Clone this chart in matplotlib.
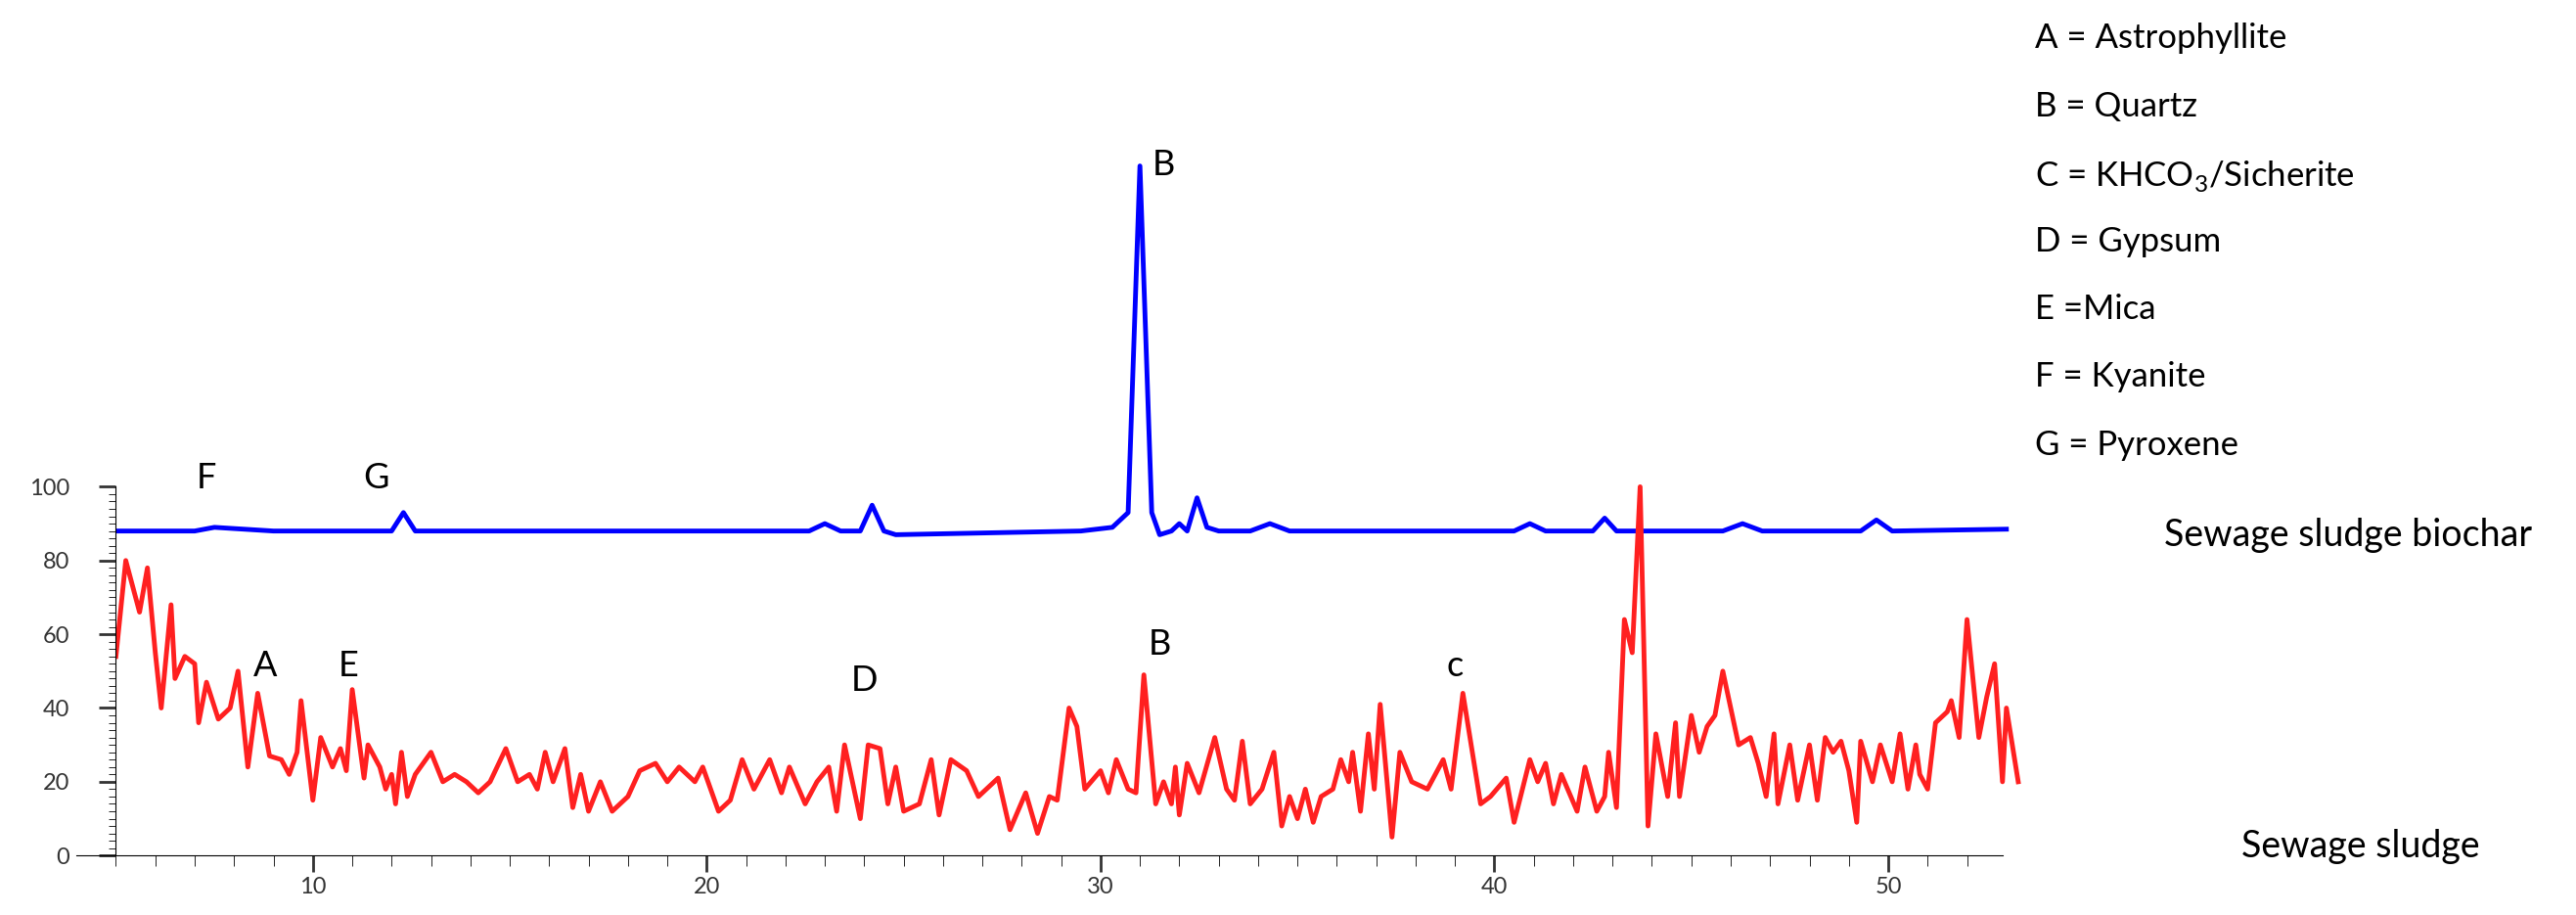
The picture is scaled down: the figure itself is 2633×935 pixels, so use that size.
import matplotlib
matplotlib.use("Agg")
import matplotlib.pyplot as plt
from matplotlib.ticker import FixedLocator
import numpy as np

red_x = [5.0,5.25,5.6,5.8,6.0,6.15,6.4,6.5,6.75,7.0,7.1,7.3,7.6,7.9,8.1,8.35,8.6,8.9,9.2,9.4,9.6,9.7,10.0,10.2,10.5,10.7,10.85,11.0,11.3,11.4,11.7,11.85,12.0,12.1,12.25,12.4,12.6,13.0,13.3,13.6,13.9,14.2,14.5,14.9,15.2,15.5,15.7,15.9,16.1,16.4,16.6,16.8,17.0,17.3,17.6,18.0,18.3,18.7,19.0,19.3,19.7,19.9,20.3,20.6,20.9,21.2,21.6,21.9,22.1,22.5,22.8,23.1,23.3,23.5,23.9,24.1,24.4,24.6,24.8,25.0,25.4,25.7,25.9,26.2,26.6,26.9,27.4,27.7,28.1,28.4,28.7,28.9,29.2,29.4,29.6,30.0,30.2,30.4,30.7,30.9,31.1,31.4,31.6,31.8,31.9,32.0,32.2,32.5,32.9,33.2,33.4,33.6,33.8,34.1,34.4,34.6,34.8,35.0,35.2,35.4,35.6,35.9,36.1,36.3,36.4,36.6,36.8,36.95,37.1,37.4,37.6,37.9,38.3,38.7,38.9,39.2,39.65,39.9,40.3,40.5,40.9,41.1,41.3,41.5,41.7,42.1,42.3,42.4,42.6,42.8,42.9,43.1,43.3,43.5,43.7,43.9,44.1,44.4,44.6,44.7,45.0,45.2,45.4,45.6,45.8,46.2,46.5,46.7,46.9,47.1,47.2,47.5,47.7,48.0,48.2,48.4,48.6,48.8,49.0,49.2,49.3,49.6,49.8,50.1,50.3,50.5,50.7,50.8,51.0,51.2,51.5,51.6,51.8,52.0,52.3,52.5,52.7,52.9,53.0,53.3]
red_y = [54,80,66,78,55,40,68,48,54,52,36,47,37,40,50,24,44,27,26,22,28,42,15,32,24,29,23,45,21,30,24,18,22,14,28,16,22,28,20,22,20,17,20,29,20,22,18,28,20,29,13,22,12,20,12,16,23,25,20,24,20,24,12,15,26,18,26,17,24,14,20,24,12,30,10,30,29,14,24,12,14,26,11,26,23,16,21,7,17,6,16,15,40,35,18,23,17,26,18,17,49,14,20,14,24,11,25,17,32,18,15,31,14,18,28,8,16,10,18,9,16,18,26,20,28,12,33,18,41,5,28,20,18,26,18,44,14,16,21,9,26,20,25,14,22,12,24,20,12,16,28,13,64,55,100,8,33,16,36,16,38,28,35,38,50,30,32,25,16,33,14,30,15,30,15,32,28,31,23,9,31,20,30,20,33,18,30,22,18,36,39,42,32,64,32,43,52,20,40,20]

blue_x = [5.0,7.0,7.5,9.0,12.0,12.3,12.6,15.0,22.6,23.0,23.4,23.9,24.2,24.5,24.8,29.5,30.3,30.7,30.85,31.0,31.15,31.3,31.5,31.8,32.0,32.2,32.45,32.7,33.0,33.8,34.3,34.8,40.5,40.9,41.3,42.5,42.8,43.1,45.8,46.3,46.8,49.3,49.7,50.1,53.0]
blue_y = [88,88,89,88,88,93,88,88,88,90,88,88,95,88,87,88,89,93,140,187,140,93,87,88,90,88,97,89,88,88,90,88,88,90,88,88,91.5,88,88,90,88,88,91,88,88.5]

peak_labels = ["F","G","A","E","D","B","c","B"]
peak_x = [7.3,11.6,8.8,10.9,24.0,31.5,39.0,31.6]
peak_y = [98,98,47,47,43,53,47,183]

legend_lines = ["A = Astrophyllite","B = Quartz",r"C = KHCO$_3$/Sicherite","D = Gypsum","E =Mica","F = Kyanite","G = Pyroxene"]
series_names = ["Sewage sludge biochar","Sewage sludge"]

plt.rcParams['font.family'] = ['Lato','DejaVu Sans']
plt.rcParams['mathtext.fontset'] = 'custom'
plt.rcParams['mathtext.rm'] = 'Lato'
fig = plt.figure(figsize=(26.33,9.35), dpi=100)
ax = fig.add_axes([0.045,0.065,0.74,0.935])
ax.plot(blue_x, blue_y, color='#0000ff', lw=3.5)
ax.plot(red_x, red_y, color='#ff2020', lw=3.5)
ax.set_xlim(5,53.4)
ax.set_ylim(0,232)
for s in ['top','right']:
    ax.spines[s].set_visible(False)
ax.spines['left'].set_bounds(0,100)
ax.spines['bottom'].set_bounds(4,52.9)
ax.spines['left'].set_position(('data',5))
ax.set_yticks([0,20,40,60,80,100])
ax.yaxis.set_minor_locator(FixedLocator(np.arange(0,101,2)))
ax.set_xticks([10,20,30,40,50])
ax.xaxis.set_minor_locator(FixedLocator(np.arange(5,53,1)))
ax.tick_params(axis='both', labelsize=17, colors='#333333', width=2)
ax.tick_params(axis='y', which='major', length=12, direction='out', pad=22)
ax.tick_params(axis='y', which='minor', length=5, direction='out')
ax.tick_params(axis='x', which='major', length=12, direction='out')
ax.tick_params(axis='x', which='minor', length=8, direction='out')
for lab,x,y in zip(peak_labels,peak_x,peak_y):
    ax.text(x,y,lab,fontsize=26,ha='center',va='bottom')
for i,t in enumerate(legend_lines):
    fig.text(0.79,0.975-i*0.074,t,fontsize=25,va='top',ha='left')
fig.text(0.84,0.415,series_names[0],fontsize=27,va='center')
fig.text(0.87,0.075,series_names[1],fontsize=27,va='center')
fig.savefig("out.png", dpi=100)
